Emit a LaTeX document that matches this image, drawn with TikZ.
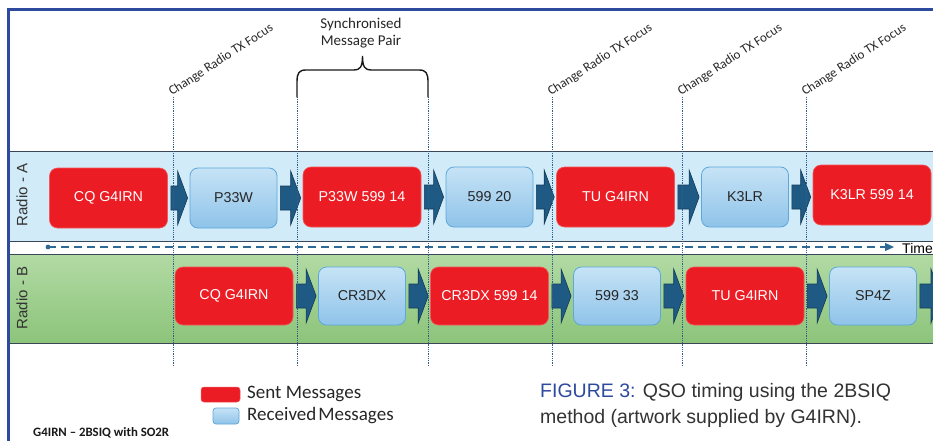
\documentclass[tikz,border=0pt]{standalone}
\usepackage{fontspec}
\setmainfont{Liberation Sans}
\newfontfamily\calfont{Carlito}
\usetikzlibrary{calc,arrows.meta}

\definecolor{frameblue}{HTML}{2E4A9E}
\definecolor{laneA}{HTML}{D2EBF8}
\definecolor{laneBtop}{HTML}{B2DAA4}
\definecolor{laneBbot}{HTML}{8CC47A}
\definecolor{laneedge}{HTML}{3A4656}
\definecolor{sentred}{HTML}{EC1C24}
\definecolor{sentedge}{HTML}{F2575C}
\definecolor{recvtop}{HTML}{C6E3F6}
\definecolor{recvbot}{HTML}{8FC3E9}
\definecolor{recvedge}{HTML}{5DA7DB}
\definecolor{arrfill}{HTML}{1F5A85}
\definecolor{arredge}{HTML}{123A58}
\definecolor{focusblue}{HTML}{2F5F8A}
\definecolor{timeblue}{HTML}{2D6A95}
\definecolor{captext}{HTML}{333333}

% block arrow between two points (tail point, tip point)
\newcommand\blockarrow[2]{%
  \draw[blockarr] let \p1=#1, \p2=#2 in
    (\x1+3pt,\y1+12pt) -- (\x2-12pt,\y1+12pt) -- (\x2-12pt,\y1+27pt)
    -- (\x2-2pt,\y1) -- (\x2-12pt,\y1-27pt) -- (\x2-12pt,\y1-12pt)
    -- (\x1+3pt,\y1-12pt) -- cycle;}

\begin{document}
\begin{tikzpicture}[x=1pt,y=-1pt,
  sentbox/.style={draw=sentedge, line width=0.6pt, fill=sentred, rounded corners=8pt,
    minimum width=118, minimum height=60, inner sep=0, text=white,
    font=\fontsize{14.3}{16}\selectfont},
  recvbox/.style={draw=recvedge, line width=0.8pt, top color=recvtop, bottom color=recvbot,
    rounded corners=8pt, minimum width=87, minimum height=60, inner sep=0,
    text=black!85, font=\fontsize{14.3}{16}\selectfont},
  blockarr/.style={fill=arrfill, draw=arredge, line width=0.6pt},
  focusline/.style={draw=focusblue, line width=0.8pt, dash pattern=on 0.9pt off 0.9pt},
  focuslabel/.style={anchor=base west, rotate=33, inner sep=0, text=black!85,
    font=\calfont\fontsize{13}{14}\selectfont},
  lanelabel/.style={rotate=90, text=black!80, font=\fontsize{15}{17}\selectfont},
  legendtext/.style={anchor=west, inner sep=0, text=black!85,
    font=\calfont\fontsize{19}{22}\selectfont}]

\useasboundingbox (0,0) rectangle (933,441);
\clip (0,0) rectangle (933,441);
\fill[white] (0,0) rectangle (933,441);

% lanes
\fill[laneA] (8,151) rectangle (933,241);
\draw[laneedge, line width=1pt] (8,151) -- (933,151) (8,241) -- (933,241);
\shade[top color=laneBtop, bottom color=laneBbot] (8,254) rectangle (933,343);
\draw[laneedge, line width=1pt] (8,254) -- (933,254) (8,343) -- (933,343);

% frame
\draw[frameblue, line width=3pt] (8,441) -- (8,10) -- (935,10);

% lane titles
\node[lanelabel] (radA) at (22,195) {Radio - A};
\node[lanelabel] (radB) at (22,298) {Radio - B};

% time axis
\fill[timeblue] (48,247) circle (2.4pt);
\coordinate (tstart) at (48,247);
\coordinate (tend) at (894,247);
\draw[timeblue, line width=1.2pt, dash pattern=on 8pt off 5pt,
  -{Triangle[length=9pt,width=8pt]}] (tstart) -- (tend);
\node[anchor=west, inner sep=0, font=\fontsize{14}{16}\selectfont] (time) at (902,248.5) {Time};

% Radio A message sequence
\node[sentbox] (a1) at (108.5,198) {CQ G4IRN};
\node[recvbox] (a2) at (233.5,198) {P33W};
\node[sentbox] (a3) at (362,197) {P33W 599 14};
\node[recvbox] (a4) at (489.5,197) {599 20};
\node[sentbox] (a5) at (615.5,197) {TU G4IRN};
\node[recvbox] (a6) at (745,197) {K3LR};
\node[sentbox] (a7) at (872,195) {K3LR 599 14};
\blockarrow{(a1.east)}{(a2.west)}
\blockarrow{(a2.east)}{(a3.west)}
\blockarrow{(a3.east)}{(a4.west)}
\blockarrow{(a4.east)}{(a5.west)}
\blockarrow{(a5.east)}{(a6.west)}
\blockarrow{(a6.east)}{(a7.west)}

% Radio B message sequence
\node[sentbox, minimum height=58] (b1) at (234,296) {CQ G4IRN};
\node[recvbox, minimum height=58] (b2) at (362,296) {CR3DX};
\node[sentbox, minimum height=58] (b3) at (489.5,296) {CR3DX 599 14};
\node[recvbox, minimum height=58] (b4) at (617,296) {599 33};
\node[sentbox, minimum height=58] (b5) at (745,296) {TU G4IRN};
\node[recvbox, minimum height=58] (b6) at (873,296) {SP4Z};
\coordinate (bnext) at (943,296);
\blockarrow{(b1.east)}{(b2.west)}
\blockarrow{(b2.east)}{(b3.west)}
\blockarrow{(b3.east)}{(b4.west)}
\blockarrow{(b4.east)}{(b5.west)}
\blockarrow{(b5.east)}{(b6.west)}
\blockarrow{(b6.east)}{(bnext)}

% focus change markers
\foreach \x/\n in {173/f1, 297/f2, 428/f3, 552/f4, 682/f5, 806/f6}{
  \draw[focusline] (\x,97) coordinate (\n) -- (\x,366);
}
\foreach \n in {f1, f4, f5, f6}{
  \node[focuslabel] (\n lbl) at ($(\n)+(-1,-1)$) {Change Radio TX Focus};
}

% synchronised pair brace
\draw[black!90, line width=1.4pt, line cap=round]
  (f2) -- (297,82) .. controls (297,73) and (299,70) .. (306,70) -- (354,70)
  .. controls (360,70) and (362.5,67) .. (362.5,56)
  .. controls (362.5,67) and (365,70) .. (371,70) -- (419,70)
  .. controls (426,70) and (428,73) .. (428,82) -- (f3);
\node[align=center, inner sep=0, text=black!85,
  font=\calfont\fontsize{15}{17}\selectfont] (sync) at (361,33) {Synchronised\\Message Pair};

% legend
\node[fill=sentred, draw=sentedge, line width=0.5pt, rounded corners=3pt,
  minimum width=39, minimum height=15, inner sep=0] (legS) at (220.5,394.5) {};
\node[draw=recvedge, line width=0.7pt, top color=recvtop, bottom color=recvbot,
  rounded corners=3pt, minimum width=26, minimum height=16, inner sep=0] (legR) at (226,416) {};
\node[legendtext] (legStxt) at (247,394) {Sent Messages};
\node[legendtext] (legRtxt) at (247,416) {Received\kern2pt Messages};

% artwork title
\node[anchor=base west, inner sep=0, text=black!90,
  font=\calfont\bfseries\fontsize{12.8}{14}\selectfont] (title) at (33,436) {G4IRN – 2BSIQ with SO2R};

% caption
\node[anchor=base west, inner sep=0, text=captext, font=\fontsize{19.5}{22}\selectfont]
  (cap1) at (540,397) {\textcolor{frameblue}{FIGURE 3:} QSO timing using the 2BSIQ};
\node[anchor=base west, inner sep=0, text=captext, font=\fontsize{19.5}{22}\selectfont]
  (cap2) at (540,423) {method (artwork supplied by G4IRN).};

\end{tikzpicture}
\end{document}
